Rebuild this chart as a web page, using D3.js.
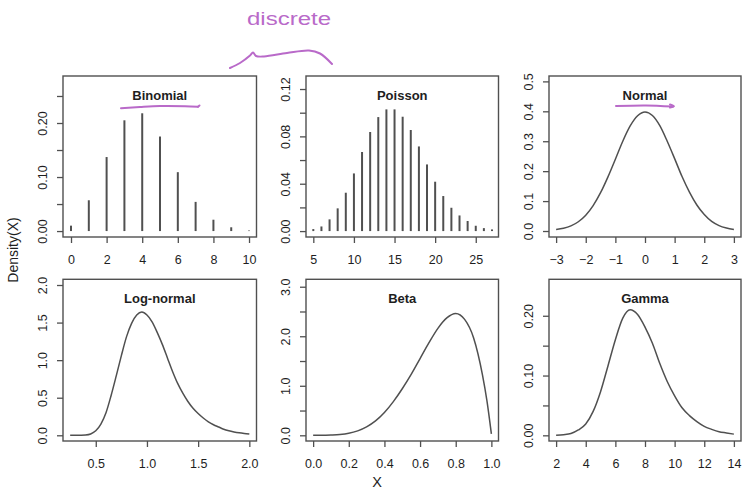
<!DOCTYPE html>
<html>
<head>
<meta charset="utf-8">
<script src="https://cdn.jsdelivr.net/npm/d3@7"></script>
<style>
  body { margin: 0; background: #fff; }
  svg { display: block; font-family: "Liberation Sans", Arial, Helvetica, sans-serif; }
</style>
</head>
<body>
<div id="container"></div>
<script>
// ---- data ----
const binomX = [0, 1, 2, 3, 4, 5, 6, 7, 8, 9, 10];
const binomY = [0.010, 0.057, 0.137, 0.205, 0.218, 0.175, 0.109, 0.054, 0.021, 0.007, 0.001];

const poisX = [5, 6, 7, 8, 9, 10, 11, 12, 13, 14, 15, 16, 17, 18, 19, 20, 21, 22, 23, 24, 25, 26, 27];
const poisY = [0.0017, 0.0039, 0.0099, 0.0192, 0.0324, 0.0487, 0.0668, 0.0837, 0.0963, 0.1028, 0.1028, 0.0966,
               0.0854, 0.0715, 0.0563, 0.0417, 0.0296, 0.0197, 0.0132, 0.0085, 0.0045, 0.0025, 0.0014];

const normX = [-3, -2.75, -2.5, -2.25, -2, -1.75, -1.5, -1.25, -1, -0.75, -0.5, -0.25, 0,
               0.25, 0.5, 0.75, 1, 1.25, 1.5, 1.75, 2, 2.25, 2.5, 2.75, 3];
const normY = [0.005, 0.009, 0.017, 0.031, 0.053, 0.085, 0.128, 0.181, 0.240, 0.300, 0.351, 0.385, 0.398,
               0.386, 0.352, 0.300, 0.242, 0.182, 0.130, 0.087, 0.055, 0.032, 0.018, 0.010, 0.005];

const lnormX = [0.25, 0.3, 0.35, 0.4, 0.45, 0.5, 0.55, 0.6, 0.65, 0.7, 0.75, 0.8, 0.85, 0.9, 0.95, 1.0,
                1.05, 1.1, 1.15, 1.2, 1.25, 1.3, 1.35, 1.4, 1.45, 1.5, 1.55, 1.6, 1.65, 1.7, 1.75, 1.8,
                1.85, 1.9, 1.95, 2.0];
const lnormY = [0.0, 0.0, 0.001, 0.004, 0.018, 0.06, 0.15, 0.30, 0.53, 0.79, 1.06, 1.31, 1.49, 1.60, 1.64, 1.60,
                1.51, 1.37, 1.21, 1.03, 0.85, 0.69, 0.56, 0.45, 0.36, 0.29, 0.23, 0.18, 0.14, 0.11, 0.08, 0.06,
                0.045, 0.033, 0.024, 0.017];

const betaX = [0, 0.05, 0.1, 0.15, 0.2, 0.25, 0.3, 0.35, 0.4, 0.45, 0.5, 0.55, 0.6, 0.65, 0.7, 0.75,
               0.8, 0.85, 0.9, 0.95, 0.975, 1.0];
const betaY = [0, 0.0, 0.005, 0.015, 0.04, 0.09, 0.17, 0.29, 0.46, 0.68, 0.94, 1.23, 1.55, 1.87, 2.16, 2.37,
               2.46, 2.34, 1.97, 1.22, 0.70, 0.03];

const gammaX = [2, 2.5, 3, 3.5, 4, 4.5, 5, 5.5, 6, 6.5, 7, 7.5, 8, 8.5, 9, 9.5, 10, 10.5, 11, 11.5,
                12, 12.5, 13, 13.5, 14];
const gammaY = [0.0, 0.001, 0.003, 0.009, 0.019, 0.040, 0.073, 0.116, 0.160, 0.196, 0.210, 0.202, 0.181,
                0.154, 0.120, 0.090, 0.066, 0.046, 0.033, 0.023, 0.015, 0.010, 0.006, 0.004, 0.002];

const titles = ['Binomial', 'Poisson', 'Normal', 'Log-normal', 'Beta', 'Gamma'];

const binomXTicks = [0, 2, 4, 6, 8, 10], binomYTicks = [0, 0.05, 0.10, 0.15, 0.20, 0.25];
const poisXTicks = [5, 10, 15, 20, 25], poisYTicks = [0, 0.02, 0.04, 0.06, 0.08, 0.10, 0.12];
const normXTicks = [-3, -2, -1, 0, 1, 2, 3], normYTicks = [0, 0.1, 0.2, 0.3, 0.4, 0.5];
const lnormXTicks = [0.5, 1.0, 1.5, 2.0], lnormYTicks = [0, 0.5, 1.0, 1.5, 2.0];
const betaXTicks = [0, 0.2, 0.4, 0.6, 0.8, 1.0], betaYTicks = [0, 0.5, 1.0, 1.5, 2.0, 2.5, 3.0];
const gammaXTicks = [2, 4, 6, 8, 10, 12, 14], gammaYTicks = [0, 0.05, 0.10, 0.15, 0.20];

// ---- layout ----
const width = 742, height = 497;
const cols = [[63, 256.5], [306, 498.5], [549, 741]];
const rows = [[76, 237], [279.3, 441]];
const ink = '#505050', textCol = '#1e1e1e', pink = '#b96ac9';

const svg = d3.select('#container').append('svg')
    .attr('width', width)
    .attr('height', height);

const minus = s => s.replace('-', '\u2212');
const fmtEvery = (f, labelled) => d => labelled.some(v => Math.abs(v - d) < 1e-9) ? minus(d3.format(f)(d)) : '';

const panels = [
    {title: titles[0], col: 0, row: 0, type: 'bars', xs: binomX, ys: binomY,
     xDomain: [-0.45, 10.42], yDomain: [-0.011, 0.287], xTicks: binomXTicks, yTicks: binomYTicks,
     xFmt: d3.format('d'), yFmt: fmtEvery('.2f', [0, 0.10, 0.20])},
    {title: titles[1], col: 1, row: 0, type: 'bars', xs: poisX, ys: poisY,
     xDomain: [4.1, 27.8], yDomain: [-0.005, 0.131], xTicks: poisXTicks, yTicks: poisYTicks,
     xFmt: d3.format('d'), yFmt: fmtEvery('.2f', [0, 0.04, 0.08, 0.12])},
    {title: titles[2], col: 2, row: 0, type: 'line', xs: normX, ys: normY,
     xDomain: [-3.24, 3.24], yDomain: [-0.02, 0.518], xTicks: normXTicks, yTicks: normYTicks,
     xFmt: d => minus(String(d)), yFmt: d3.format('.1f')},
    {title: titles[3], col: 0, row: 1, type: 'line', xs: lnormX, ys: lnormY,
     xDomain: [0.18, 2.07], yDomain: [-0.076, 2.076], xTicks: lnormXTicks, yTicks: lnormYTicks,
     xFmt: d3.format('.1f'), yFmt: d3.format('.1f')},
    {title: titles[4], col: 1, row: 1, type: 'line', xs: betaX, ys: betaY,
     xDomain: [-0.04, 1.04], yDomain: [-0.115, 3.15], xTicks: betaXTicks, yTicks: betaYTicks,
     xFmt: d3.format('.1f'), yFmt: fmtEvery('.1f', [0, 1, 2, 3])},
    {title: titles[5], col: 2, row: 1, type: 'line', xs: gammaX, ys: gammaY,
     xDomain: [1.52, 14.48], yDomain: [-0.0095, 0.261], xTicks: gammaXTicks, yTicks: gammaYTicks,
     xFmt: d3.format('d'), yFmt: fmtEvery('.2f', [0, 0.10, 0.20])}
];

function drawPanel(p) {
    const [x0, x1] = cols[p.col], [y0, y1] = rows[p.row];
    const x = d3.scaleLinear(p.xDomain, [x0, x1]);
    const y = d3.scaleLinear(p.yDomain, [y1, y0]);
    const g = svg.append('g');

    if (p.type == 'bars') {
        g.selectAll('line.bar')
            .data(p.xs)
            .join('line')
                .classed('bar', true)
                .attr('x1', d => x(d)).attr('x2', d => x(d))
                .attr('y1', y(0))
                .attr('y2', (d, i) => y(p.ys[i]))
                .attr('stroke', ink)
                .attr('stroke-width', 2);
    } else {
        g.append('path')
            .datum(p.xs.map((d, i) => [d, p.ys[i]]))
            .attr('fill', 'none')
            .attr('stroke', ink)
            .attr('stroke-width', 1.5)
            .attr('stroke-linejoin', 'round')
            .attr('d', d3.line(d => x(d[0]), d => y(d[1])).curve(d3.curveMonotoneX));
    }

    // frame
    g.append('rect')
        .attr('x', x0).attr('y', y0)
        .attr('width', x1 - x0).attr('height', y1 - y0)
        .attr('fill', 'none')
        .attr('stroke', ink)
        .attr('stroke-width', 1.4);

    // bottom axis
    const xa = g.append('g')
        .attr('transform', `translate(0,${y1})`)
        .call(d3.axisBottom(x).tickValues(p.xTicks).tickSize(6).tickFormat(p.xFmt))
        .attr('font-family', null).attr('font-size', 12.5).attr('color', ink);
    xa.select('.domain').remove();
    xa.selectAll('line').attr('stroke-width', 1.3);
    xa.selectAll('text').attr('y', 26.5).attr('dy', null).attr('fill', textCol);

    // left axis, labels turned as in R
    const ya = g.append('g')
        .attr('transform', `translate(${x0},0)`)
        .call(d3.axisLeft(y).tickValues(p.yTicks).tickSize(6).tickFormat(p.yFmt))
        .attr('font-family', null).attr('font-size', 12.5).attr('color', ink);
    ya.select('.domain').remove();
    ya.selectAll('line').attr('stroke-width', 1.3);
    ya.selectAll('text')
        .attr('x', null).attr('dy', null)
        .attr('text-anchor', 'middle')
        .attr('transform', 'translate(-16.5,0) rotate(-90)')
        .attr('fill', textCol);

    g.append('text')
        .attr('x', (x0 + x1) / 2)
        .attr('y', y0 + 23.5)
        .attr('text-anchor', 'middle')
        .attr('font-weight', 'bold')
        .attr('font-size', 13)
        .attr('fill', textCol)
        .text(p.title);
}

panels.forEach(drawPanel);

// outer labels
svg.append('text')
    .attr('transform', 'translate(18,250) rotate(-90)')
    .attr('text-anchor', 'middle')
    .attr('font-size', 14)
    .attr('fill', textCol)
    .text('Density(X)');

svg.append('text')
    .attr('x', 377).attr('y', 487)
    .attr('text-anchor', 'middle')
    .attr('font-size', 14.5)
    .attr('fill', textCol)
    .text('X');

// handwritten pink notes
const note = d3.line().curve(d3.curveCatmullRom);
const notes = svg.append('g')
    .attr('fill', 'none')
    .attr('stroke', pink)
    .attr('stroke-width', 2)
    .attr('stroke-linecap', 'round');
notes.append('path').attr('d', note([[230, 68], [240, 63], [250, 55.5], [253, 52.5], [256, 56], [264, 56.5],
                                     [287, 53], [309, 50.5], [320, 53.5], [332, 64]]));
notes.append('path').attr('d', note([[121, 108.3], [140, 107], [160, 106], [185, 106.2], [198, 106.8]]));
notes.append('path').attr('d', note([[198, 106.8], [199.5, 105.5]]));
notes.append('path').attr('d', note([[616, 106], [646, 105.4], [673, 106.5]]));
notes.append('path').attr('d', note([[670, 104.5], [674, 106.3], [670, 107.5]]));

svg.append('text')
    .attr('x', 247).attr('y', 25)
    .attr('font-size', 18)
    .attr('fill', pink)
    .attr('textLength', 84)
    .attr('lengthAdjust', 'spacingAndGlyphs')
    .text('discrete');
</script>
</body>
</html>
